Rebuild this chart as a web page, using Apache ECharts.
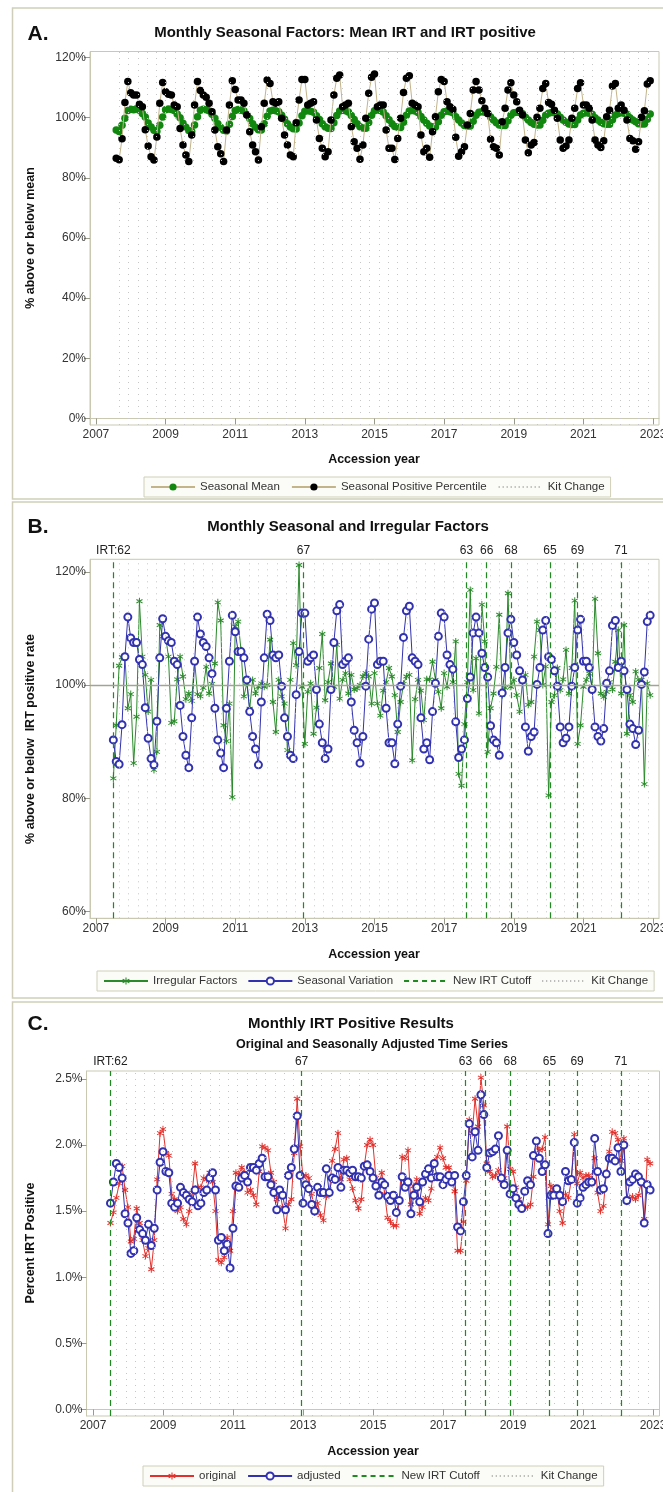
<!DOCTYPE html>
<html><head><meta charset="utf-8">
<script src="https://cdn.jsdelivr.net/npm/echarts@6/dist/echarts.min.js"></script>
<style>html,body{margin:0;padding:0;background:#fff}#c{width:663px;height:1492px}</style>
</head><body><div id="c"></div>
<script>
// ---- time base: monthly series starting Jul 2007 ----
const startYear = 2007, startMonth = 7;

// Seasonal factor (% of mean), Jul 2007 - Dec 2022 (panel A black / panel B blue)
const seasonalFactor = [
  90.3, 86.5, 86.0, 93.0, 105.0, 112.0,
  108.3, 107.5, 107.5, 104.5, 103.6, 96.0, 90.6, 87.0, 85.9, 93.6, 104.8, 111.7,
  108.6, 107.8, 107.5, 104.2, 103.6, 96.4, 90.9, 87.6, 85.4, 94.2, 104.2, 112.0,
  109.0, 107.5, 106.8, 104.8, 102.0, 95.9, 90.3, 88.0, 85.4, 95.9, 104.2, 112.3,
  109.4, 105.9, 105.9, 104.8, 100.9, 95.3, 90.9, 88.7, 85.9, 97.0, 104.8, 112.5,
  111.4, 105.3, 104.8, 105.3, 99.8, 94.2, 90.9, 87.6, 87.0, 98.3, 105.9, 112.7,
  112.7, 104.2, 104.8, 105.3, 99.2, 93.1, 89.8, 87.0, 88.7, 99.2, 107.5, 113.1,
  114.2, 103.6, 104.2, 104.8, 97.0, 92.0, 89.8, 86.2, 90.9, 99.8, 108.1, 113.4,
  114.5, 103.6, 104.2, 104.2, 95.9, 89.8, 89.8, 86.1, 93.1, 99.8, 108.4, 113.1,
  113.9, 104.8, 104.2, 103.6, 94.2, 88.7, 89.8, 86.8, 95.3, 100.3, 108.6, 112.7,
  112.0, 105.3, 103.6, 102.8, 93.5, 87.2, 88.7, 90.3, 97.6, 101.4, 109.2, 112.0,
  109.2, 105.6, 103.1, 101.4, 92.8, 90.3, 89.8, 87.6, 98.6, 103.1, 109.2, 111.6,
  107.5, 105.3, 102.5, 100.9, 92.6, 88.3, 90.9, 91.7, 100.1, 103.1, 109.7, 111.4,
  105.0, 104.5, 102.5, 99.8, 92.6, 89.8, 90.6, 92.6, 99.8, 103.1, 109.7, 111.6,
  104.2, 104.2, 103.1, 99.2, 92.6, 90.9, 90.1, 92.3, 100.3, 102.5, 110.5, 111.4,
  103.1, 104.2, 102.5, 99.2, 93.1, 92.3, 89.5, 92.0, 100.1, 102.3, 111.2, 112.3
];

// Seasonal mean (% of mean), Aug 2007 - Dec 2022 (panel A green)
const seasonalMean = [
  95.9, 95.4, 97.5, 99.8, 102.4,
  102.8, 102.6, 103.0, 102.5, 101.4, 100.2, 98.2, 96.9, 95.8, 95.5, 97.5, 100.2,
  102.6, 102.9, 102.7, 102.4, 101.2, 100.0, 98.1, 96.8, 95.7, 95.4, 97.6, 100.3,
  102.5, 102.8, 102.6, 102.3, 101.1, 99.8, 98.0, 96.7, 95.8, 95.6, 97.8, 100.4,
  102.4, 102.7, 102.5, 102.2, 101.0, 99.7, 98.0, 96.8, 96.0, 95.9, 98.0, 100.5,
  102.2, 102.5, 102.3, 102.0, 100.8, 99.5, 98.0, 96.9, 96.3, 96.2, 98.2, 100.6,
  102.1, 102.3, 102.1, 101.8, 100.6, 99.4, 98.0, 97.0, 96.5, 96.4, 98.3, 100.7,
  102.2, 102.5, 102.3, 101.9, 100.7, 99.4, 98.0, 97.0, 96.6, 96.5, 98.4, 100.8,
  102.3, 102.6, 102.4, 101.9, 100.6, 99.3, 98.0, 97.1, 96.8, 96.7, 98.5, 100.8,
  102.2, 102.4, 102.2, 101.7, 100.4, 99.2, 98.1, 97.2, 97.0, 96.9, 98.6, 100.8,
  102.0, 102.2, 102.0, 101.6, 100.3, 99.2, 98.2, 97.4, 97.2, 97.2, 98.8, 100.8,
  101.8, 102.0, 101.8, 101.4, 100.2, 99.2, 98.3, 97.6, 97.4, 97.4, 99.0, 100.8,
  101.6, 101.8, 101.7, 101.3, 100.1, 99.2, 98.4, 97.8, 97.6, 97.6, 99.1, 100.8,
  101.5, 101.7, 101.6, 101.2, 100.1, 99.2, 98.5, 97.9, 97.7, 97.7, 99.2, 100.9,
  101.5, 101.6, 101.5, 101.1, 100.0, 99.2, 98.5, 98.0, 97.8, 97.8, 99.3, 100.9,
  101.4, 101.6, 101.5, 101.1, 100.0, 99.2, 98.6, 98.0, 97.9, 97.9, 99.5, 101.2
];

// Irregular factors (%), Jul 2007 - Dec 2022
const irregular = [
  83.5, 92.9, 103.4, 104.9, 105.0, 95.9,
  98.4, 86.2, 94.4, 114.8, 105.0, 101.8, 95.3, 100.9, 85.0, 88.2, 110.6, 108.6,
  108.6, 105.0, 93.3, 93.6, 101.0, 105.0, 101.5, 97.5, 98.5, 97.2, 104.4, 98.4,
  98.0, 99.5, 103.2, 98.5, 100.2, 103.8, 114.6, 111.4, 92.9, 90.1, 96.7, 80.2,
  110.3, 111.2, 106.2, 98.0, 100.3, 95.8, 100.9, 98.5, 99.7, 100.3, 99.7, 100.0,
  108.0, 97.0, 91.7, 100.9, 98.0, 96.7, 88.5, 100.9, 107.4, 103.5, 121.2, 99.7,
  89.6, 98.8, 100.3, 91.4, 96.0, 103.0, 109.0, 97.3, 100.5, 103.8, 99.7, 107.1,
  97.6, 100.9, 102.1, 98.5, 101.8, 99.2, 99.4, 100.0, 101.5, 102.1, 101.5, 96.7,
  102.1, 96.7, 94.6, 99.0, 100.5, 103.0, 101.5, 98.2, 91.7, 97.0, 100.2, 101.5,
  101.8, 86.7, 97.5, 100.9, 99.0, 93.8, 101.0, 101.0, 104.1, 100.9, 98.8, 95.9,
  102.1, 99.7, 103.8, 100.5, 107.7, 84.3, 82.2, 93.1, 100.5, 116.8, 99.1, 104.7,
  95.0, 114.2, 107.7, 88.2, 95.9, 98.5, 103.2, 112.4, 98.2, 99.5, 116.2, 99.7,
  100.9, 98.2, 95.3, 100.5, 101.8, 96.5, 97.0, 105.0, 111.2, 109.7, 100.0, 103.3,
  80.5, 97.0, 98.2, 103.0, 99.1, 101.0, 106.2, 98.5, 103.0, 114.9, 89.6, 92.9,
  99.7, 100.9, 102.0, 99.7, 115.2, 105.6, 98.5, 97.9, 98.8, 100.5, 99.2, 104.1,
  109.7, 98.5, 110.6, 91.4, 98.2, 97.0, 102.4, 100.9, 100.9, 82.5, 100.3, 98.2
];

// Percent IRT positive, original, Jul 2007 - Dec 2022
const original = [
  1.41, 1.49, 1.60, 1.71, 1.84, 1.66,
  1.53, 1.27, 1.29, 1.52, 1.41, 1.28, 1.16, 1.22, 1.06, 1.28, 1.74, 2.09,
  2.12, 1.94, 1.92, 1.63, 1.59, 1.50, 1.53, 1.44, 1.40, 1.50, 1.64, 1.86,
  1.68, 1.68, 1.75, 1.74, 1.79, 1.72, 1.50, 1.13, 1.11, 1.15, 1.30, 1.20,
  1.50, 1.79, 1.78, 1.83, 1.79, 1.64, 1.66, 1.62, 1.55, 1.80, 1.99, 1.98,
  1.96, 1.79, 1.72, 1.59, 1.66, 1.53, 1.37, 1.55, 1.59, 1.94, 2.35, 1.99,
  1.76, 1.77, 1.75, 1.63, 1.49, 1.56, 1.47, 1.43, 1.61, 1.63, 1.88, 1.97,
  2.09, 1.74, 1.89, 1.90, 1.74, 1.67, 1.58, 1.52, 1.59, 1.84, 2.00, 2.04,
  2.00, 1.75, 1.69, 1.79, 1.63, 1.45, 1.42, 1.39, 1.39, 1.58, 1.91, 1.90,
  1.96, 1.55, 1.69, 1.74, 1.48, 1.53, 1.60, 1.58, 1.67, 1.87, 1.91, 1.98,
  1.90, 1.83, 1.83, 1.77, 1.65, 1.20, 1.20, 1.42, 1.73, 2.19, 2.09, 2.35,
  2.14, 2.51, 2.30, 1.86, 1.80, 1.76, 1.77, 1.81, 1.73, 1.75, 2.14, 1.82,
  1.80, 1.68, 1.59, 1.53, 1.53, 1.53, 1.55, 1.76, 2.03, 1.96, 1.97, 2.06,
  1.40, 1.69, 1.66, 1.67, 1.50, 1.41, 1.63, 1.60, 1.74, 2.08, 1.71, 1.79,
  1.75, 1.77, 1.77, 1.71, 1.90, 1.64, 1.50, 1.54, 1.79, 1.95, 2.10, 2.09,
  2.04, 1.88, 2.05, 1.57, 1.60, 1.61, 1.59, 1.62, 1.72, 1.44, 1.89, 1.86
];

// Percent IRT positive, seasonally adjusted, Jul 2007 - Dec 2022
const adjusted = [
  1.56, 1.72, 1.86, 1.83, 1.75, 1.48,
  1.41, 1.18, 1.20, 1.45, 1.36, 1.33, 1.28, 1.40, 1.24, 1.37, 1.66, 1.87,
  1.95, 1.80, 1.79, 1.56, 1.53, 1.56, 1.68, 1.64, 1.62, 1.59, 1.57, 1.66,
  1.54, 1.56, 1.64, 1.66, 1.75, 1.79, 1.66, 1.28, 1.30, 1.20, 1.25, 1.07,
  1.37, 1.69, 1.68, 1.75, 1.77, 1.72, 1.83, 1.83, 1.81, 1.86, 1.90, 1.76,
  1.76, 1.70, 1.64, 1.51, 1.66, 1.62, 1.51, 1.77, 1.83, 1.97, 2.22, 1.77,
  1.56, 1.70, 1.67, 1.55, 1.50, 1.68, 1.64, 1.64, 1.82, 1.64, 1.75, 1.74,
  1.83, 1.68, 1.81, 1.81, 1.79, 1.81, 1.76, 1.76, 1.75, 1.84, 1.85, 1.80,
  1.75, 1.69, 1.62, 1.72, 1.70, 1.61, 1.58, 1.62, 1.49, 1.58, 1.76, 1.68,
  1.72, 1.48, 1.62, 1.68, 1.57, 1.72, 1.78, 1.82, 1.75, 1.86, 1.76, 1.76,
  1.70, 1.74, 1.77, 1.72, 1.77, 1.38, 1.35, 1.57, 1.77, 2.16, 1.91, 2.10,
  1.96, 2.38, 2.23, 1.83, 1.94, 1.95, 1.97, 2.07, 1.75, 1.70, 1.96, 1.63,
  1.67, 1.60, 1.55, 1.52, 1.65, 1.73, 1.70, 1.92, 2.03, 1.90, 1.80, 1.85,
  1.33, 1.62, 1.62, 1.67, 1.62, 1.57, 1.80, 1.73, 1.74, 2.02, 1.56, 1.60,
  1.68, 1.70, 1.72, 1.72, 2.05, 1.80, 1.66, 1.67, 1.78, 1.90, 1.90, 1.88,
  1.98, 1.80, 2.00, 1.58, 1.72, 1.74, 1.78, 1.76, 1.72, 1.41, 1.70, 1.66
];

// New IRT cutoff dates and labels
const cutoffYears  = [2007.50, 2012.96, 2017.64, 2018.22, 2018.92, 2020.04, 2020.83, 2022.08];
const cutoffLabels = ['IRT:62', '67', '63', '66', '68', '65', '69', '71'];

// Kit change dates
const kitChangeYears = [2007.67, 2007.94, 2008.21, 2008.47, 2008.74, 2009.00, 2009.27, 2009.54, 2009.80,
  2010.07, 2010.34, 2010.60, 2010.87, 2011.13, 2011.40, 2011.67, 2011.93, 2012.20, 2012.47, 2012.73,
  2013.26, 2013.53, 2013.80, 2014.06, 2014.33, 2014.60, 2014.86, 2015.13, 2015.40, 2015.66, 2015.93,
  2016.20, 2016.46, 2016.73, 2016.99, 2017.26, 2017.53, 2017.79, 2018.06, 2018.33, 2018.59, 2018.86,
  2019.12, 2019.39, 2019.66, 2019.92, 2020.19, 2020.46, 2020.72, 2020.99, 2021.25, 2021.52, 2021.79,
  2022.05, 2022.32, 2022.58, 2022.85];

// Tick labels
const xTicks  = [2007, 2009, 2011, 2013, 2015, 2017, 2019, 2021, 2023];
const yTicksA = [0, 20, 40, 60, 80, 100, 120];
const yTicksB = [60, 80, 100, 120];
const yTicksC = [0, 0.5, 1.0, 1.5, 2.0, 2.5];

// ---- styling ----
const FONT = '"Liberation Sans", Arial, Helvetica, sans-serif';
const FRAME = '#c9c9b2';
const PANEL = '#cfcfb9';
const TAN = '#c4b48a';
const KIT = '#c6c6c6';
const CUT = '#1f8a1f';
const GREEN = '#2a8a2a';
const BLUE = '#3232b0';
const RED = '#e2312c';
const NONE = 'rgba(0,0,0,0)';
const STAR = 'path://M-0.14,-1L0.14,-1L0.14,1L-0.14,1Z M-0.936,-0.379L-0.796,-0.621L0.936,0.379L0.796,0.621Z M-0.796,0.621L-0.936,0.379L0.796,-0.621L0.936,-0.379Z';

function pts(arr, offset) {
  return arr.map((v, i) => [startYear + (startMonth - 1 + offset + i) / 12, v]);
}

function xAxisDef(gi, min, max) {
  return {
    type: 'value', gridIndex: gi, min: min, max: max,
    axisLine: { show: true, lineStyle: { color: FRAME, width: 1 } },
    axisTick: { show: true, customValues: xTicks, length: 6, lineStyle: { color: '#9a9a8c' } },
    axisLabel: { customValues: xTicks, color: '#333', fontSize: 12, fontFamily: FONT, margin: 4, formatter: v => String(v) },
    splitLine: { show: false }
  };
}
function yAxisDef(gi, min, max, ticks, fmt) {
  return {
    type: 'value', gridIndex: gi, min: min, max: max,
    axisLine: { show: true, lineStyle: { color: FRAME, width: 1 } },
    axisTick: { show: true, customValues: ticks, length: 6, lineStyle: { color: '#9a9a8c' } },
    axisLabel: { customValues: ticks, color: '#333', fontSize: 12, fontFamily: FONT, margin: 4, formatter: fmt },
    splitLine: { show: false }
  };
}

function kitSeries(ai) {
  return {
    name: 'Kit Change', type: 'line', xAxisIndex: ai, yAxisIndex: ai, data: [], symbol: 'none', z: 1,
    itemStyle: { color: NONE, borderColor: NONE },
    lineStyle: { color: '#aaaaaa', type: [1, 3], width: 1 },
    markLine: {
      silent: true, symbol: ['none', 'none'], animation: false,
      lineStyle: { color: KIT, type: [1, 5], width: 1 },
      label: { show: false }, emphasis: { disabled: true },
      data: kitChangeYears.map(v => ({ xAxis: v }))
    }
  };
}
function cutSeries(ai) {
  return {
    name: 'New IRT Cutoff', type: 'line', xAxisIndex: ai, yAxisIndex: ai, data: [], symbol: 'none', z: 2,
    itemStyle: { color: NONE, borderColor: NONE },
    lineStyle: { color: CUT, type: [5, 4], width: 1.2 },
    markLine: {
      silent: true, symbol: ['none', 'none'], animation: false,
      lineStyle: { color: CUT, type: [6, 4], width: 1.2 },
      label: { show: true, position: 'end', formatter: '{b}', distance: 3, color: '#222', fontSize: 12, fontFamily: FONT },
      emphasis: { disabled: true },
      data: cutoffYears.map((v, i) => ({ xAxis: v, name: cutoffLabels[i] }))
    }
  };
}

const legendCommon = {
  orient: 'horizontal', itemWidth: 44, itemHeight: 9, itemGap: 11,
  padding: [4, 6], borderColor: PANEL, borderWidth: 1, backgroundColor: '#fbfbf7',
  selectedMode: false, textStyle: { fontSize: 11.5, color: '#333', fontFamily: FONT }
};

function txt(x, y, text, font, extra) {
  return Object.assign({ type: 'text', x: x, y: y, silent: true,
    style: { text: text, font: font, fill: '#111', align: 'center', verticalAlign: 'middle' } }, extra || {});
}

const option = {
  animation: false,
  backgroundColor: '#fff',
  grid: [
    { left: 90, top: 51.5, width: 569, height: 373.5, show: true, borderColor: FRAME, borderWidth: 1, outerBoundsMode: 'none', containLabel: false },
    { left: 90, top: 559.3, width: 569, height: 359, show: true, borderColor: FRAME, borderWidth: 1, outerBoundsMode: 'none', containLabel: false },
    { left: 86.5, top: 1071, width: 573, height: 345, show: true, borderColor: FRAME, borderWidth: 1, outerBoundsMode: 'none', containLabel: false }
  ],
  xAxis: [ xAxisDef(0, 2006.83, 2023.17), xAxisDef(1, 2006.83, 2023.17), xAxisDef(2, 2006.815, 2023.185) ],
  yAxis: [
    yAxisDef(0, -2.2, 122, yTicksA, v => v + '%'),
    yAxisDef(1, 58.8, 122.2, yTicksB, v => v + '%'),
    yAxisDef(2, -0.05, 2.56, yTicksC, v => v.toFixed(1) + '%')
  ],
  legend: [
    Object.assign({}, legendCommon, { left: 144, top: 477, data: ['Seasonal Mean', 'Seasonal Positive Percentile', 'Kit Change'] }),
    Object.assign({}, legendCommon, { left: 97, top: 971, itemGap: 10, data: ['Irregular Factors', 'Seasonal Variation', 'New IRT Cutoff', 'Kit Change'] }),
    Object.assign({}, legendCommon, { left: 143, top: 1466, data: ['original', 'adjusted', 'New IRT Cutoff', 'Kit Change'] })
  ],
  series: [
    // Panel A
    kitSeries(0),
    { name: 'Seasonal Mean', type: 'line', xAxisIndex: 0, yAxisIndex: 0, data: pts(seasonalMean, 1), z: 3,
      symbol: 'circle', symbolSize: 7.5, itemStyle: { color: '#12870f' }, lineStyle: { color: TAN, width: 1 } },
    { name: 'Seasonal Positive Percentile', type: 'line', xAxisIndex: 0, yAxisIndex: 0, data: pts(seasonalFactor.slice(1), 1), z: 4,
      symbol: 'circle', symbolSize: 7.5, itemStyle: { color: '#000' }, lineStyle: { color: TAN, width: 1 } },
    // Panel B
    kitSeries(1),
    cutSeries(1),
    { name: 'Irregular Factors', type: 'line', xAxisIndex: 1, yAxisIndex: 1, data: pts(irregular, 0), z: 3,
      symbol: STAR, symbolKeepAspect: true, symbolSize: 7, itemStyle: { color: GREEN }, lineStyle: { color: GREEN, width: 1 },
      markLine: { silent: true, symbol: ['none', 'none'], animation: false, label: { show: false },
        lineStyle: { color: '#a3a394', type: 'solid', width: 1.3 }, data: [{ yAxis: 100 }] } },
    { name: 'Seasonal Variation', type: 'line', xAxisIndex: 1, yAxisIndex: 1, data: pts(seasonalFactor, 0), z: 4,
      symbol: 'emptyCircle', symbolSize: 7, itemStyle: { color: BLUE, borderWidth: 1 }, lineStyle: { color: BLUE, width: 1 } },
    // Panel C
    kitSeries(2),
    cutSeries(2),
    { name: 'original', type: 'line', xAxisIndex: 2, yAxisIndex: 2, data: pts(original, 0), z: 3,
      symbol: STAR, symbolKeepAspect: true, symbolSize: 7, itemStyle: { color: RED }, lineStyle: { color: RED, width: 1 } },
    { name: 'adjusted', type: 'line', xAxisIndex: 2, yAxisIndex: 2, data: pts(adjusted, 0), z: 4,
      symbol: 'emptyCircle', symbolSize: 7, itemStyle: { color: BLUE, borderWidth: 1 }, lineStyle: { color: BLUE, width: 1 } }
  ],
  graphic: [
    { type: 'rect', silent: true, z: -10, shape: { x: 12.5, y: 8, width: 700, height: 491 }, style: { fill: 'none', stroke: PANEL, lineWidth: 1.5 } },
    { type: 'rect', silent: true, z: -10, shape: { x: 12.5, y: 502, width: 700, height: 496 }, style: { fill: 'none', stroke: PANEL, lineWidth: 1.5 } },
    { type: 'rect', silent: true, z: -10, shape: { x: 12.5, y: 1002, width: 700, height: 520 }, style: { fill: 'none', stroke: PANEL, lineWidth: 1.5 } },
    txt(38, 34, 'A.', 'bold 21px ' + FONT),
    txt(345, 33, 'Monthly Seasonal Factors: Mean IRT and IRT positive', 'bold 15px ' + FONT),
    txt(374, 460, 'Accession year', 'bold 12.5px ' + FONT),
    txt(31, 238, '% above or below mean', 'bold 12.5px ' + FONT, { rotation: Math.PI / 2 }),
    txt(38, 527, 'B.', 'bold 21px ' + FONT),
    txt(348, 527, 'Monthly Seasonal and Irregular Factors', 'bold 15px ' + FONT),
    txt(374, 955, 'Accession year', 'bold 12.5px ' + FONT),
    txt(31, 739, '% above or below  IRT positive rate', 'bold 12.5px ' + FONT, { rotation: Math.PI / 2 }),
    txt(38, 1024, 'C.', 'bold 21px ' + FONT),
    txt(351, 1024, 'Monthly IRT Positive Results', 'bold 15px ' + FONT),
    txt(372, 1045, 'Original and Seasonally Adjusted Time Series', 'bold 12.5px ' + FONT),
    txt(373, 1452, 'Accession year', 'bold 12.5px ' + FONT),
    txt(31, 1243, 'Percent IRT Positive', 'bold 12.5px ' + FONT, { rotation: Math.PI / 2 })
  ]
};

const chart = echarts.init(document.getElementById('c'), null, { renderer: 'canvas', width: 663, height: 1492 });
chart.setOption(option);
</script></body></html>
